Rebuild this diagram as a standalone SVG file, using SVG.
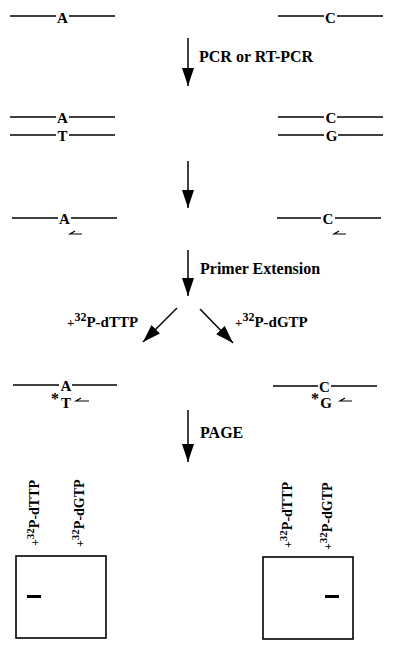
<svg xmlns="http://www.w3.org/2000/svg" width="400" height="652" viewBox="0 0 400 652">
<style>
text{font-family:"Liberation Serif","Times New Roman",serif;font-weight:bold;fill:#000}
.b{font-size:15px;text-anchor:middle}
.lbl{font-size:16px}
.sm{font-size:15px}
.ast{font-size:16px;text-anchor:middle}
.s{stroke:#000;stroke-width:1.3;fill:none}
.arr{stroke:#000;stroke-width:1.5;fill:none;marker-end:url(#ah)}
.pr{stroke:#000;stroke-width:1.2;fill:none}
.gel{stroke:#000;stroke-width:1.6;fill:#fff}
</style>
<defs>
<marker id="ah" viewBox="0 0 18 12" refX="18" refY="6" markerWidth="18" markerHeight="12" orient="auto" markerUnits="userSpaceOnUse"><path d="M0,0 L18,6 L0,12 z" fill="#000"/></marker>
</defs>
<g id="row1-left"><path class="s" d="M10,16H56M69,16H115"/><text class="b" x="62.5" y="23">A</text></g>
<g id="row1-right"><path class="s" d="M278,16H324M337,16H383"/><text class="b" x="330.5" y="23">C</text></g>
<g id="row2-left"><path class="s" d="M10,117H56M69,117H115M10,135H56M69,135H115"/><text class="b" x="62.5" y="123">A</text><text class="b" x="62.5" y="141">T</text></g>
<g id="row2-right"><path class="s" d="M278,117H324M337,117H383M278,135H324M338,135H383"/><text class="b" x="331" y="123">C</text><text class="b" x="331.5" y="141">G</text></g>
<g id="row3-left"><path class="s" d="M12,218H58M71,218H117"/><text class="b" x="64.5" y="224">A</text><path class="pr" d="M82,234H70L75,231"/></g>
<g id="row3-right"><path class="s" d="M277,218H321M335,218H381"/><text class="b" x="328" y="224">C</text><path class="pr" d="M346,234H334L339,231"/></g>
<g id="row4-left"><path class="s" d="M13,385H59M72,385H117"/><text class="b" x="66" y="391">A</text><text class="ast" x="55" y="404">*</text><text class="b" x="66" y="408">T</text><path class="pr" d="M89,401H76L81,398"/></g>
<g id="row4-right"><path class="s" d="M273,386H318M331,386H377"/><text class="b" x="324.5" y="392">C</text><text class="ast" x="315" y="404">*</text><text class="b" x="326" y="408">G</text><path class="pr" d="M352,401H340L345,398"/></g>
<g id="labels">
<text class="lbl" x="199" y="62">PCR or RT-PCR</text>
<text class="lbl" x="200" y="274">Primer Extension</text>
<text class="lbl" x="200" y="438">PAGE</text>
<text class="sm" x="67" y="327"><tspan style="font-size:13px">+</tspan><tspan style="font-size:12px" dy="-6">32</tspan><tspan dy="6">P-dTTP</tspan></text>
<text class="sm" x="235" y="327"><tspan style="font-size:13px">+</tspan><tspan style="font-size:12px" dy="-6">32</tspan><tspan dy="6">P-dGTP</tspan></text>
</g>
<g id="connectors">
<line class="arr" x1="188" y1="38" x2="188" y2="86"/>
<line class="arr" x1="188" y1="161" x2="188" y2="208"/>
<line class="arr" x1="188" y1="250" x2="188" y2="296"/>
<line class="arr" x1="177" y1="308" x2="143" y2="342"/>
<line class="arr" x1="200" y1="309" x2="233" y2="343"/>
<line class="arr" x1="188" y1="410" x2="188" y2="462"/>
</g>
<g id="gel-left">
<rect class="gel" x="16" y="556" width="90" height="82"/>
<rect x="27" y="595" width="14" height="3" fill="#000"/>
<text class="sm" transform="translate(39,546) rotate(-90)" style="font-size:14px"><tspan style="font-size:12px">+</tspan><tspan style="font-size:11px" dy="-5">32</tspan><tspan dy="5">P-dTTP</tspan></text>
<text class="sm" transform="translate(84,547) rotate(-90)" style="font-size:14px"><tspan style="font-size:12px">+</tspan><tspan style="font-size:11px" dy="-5">32</tspan><tspan dy="5">P-dGTP</tspan></text>
</g>
<g id="gel-right">
<rect class="gel" x="263" y="557" width="90" height="82"/>
<rect x="325" y="595" width="14" height="3" fill="#000"/>
<text class="sm" transform="translate(292,548) rotate(-90)" style="font-size:14px"><tspan style="font-size:12px">+</tspan><tspan style="font-size:11px" dy="-5">32</tspan><tspan dy="5">P-dTTP</tspan></text>
<text class="sm" transform="translate(332,550) rotate(-90)" style="font-size:14px"><tspan style="font-size:12px">+</tspan><tspan style="font-size:11px" dy="-5">32</tspan><tspan dy="5">P-dGTP</tspan></text>
</g>
</svg>
